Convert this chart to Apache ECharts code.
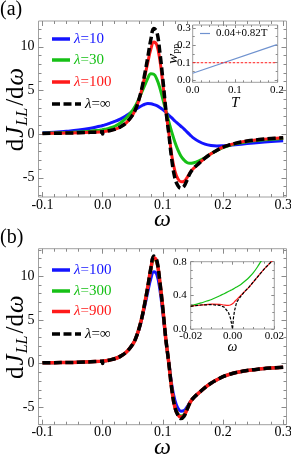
<!DOCTYPE html>
<html><head><meta charset="utf-8">
<script src="https://cdn.jsdelivr.net/npm/echarts@6/dist/echarts.min.js"></script>
<style>html,body{margin:0;padding:0;background:#fff}#c{width:291px;height:458px}</style>
</head><body><div id="c"></div><script>
// ---------------- data ----------------
const omega = [-0.1,-0.08,-0.06,-0.04,-0.02,-0.005,-0.001,0,0.001,0.005,0.01,0.02,0.03,0.04,0.05,0.055,0.06,0.065,0.07,0.075,0.08,0.085,0.09,0.095,0.1,0.105,0.11,0.115,0.12,0.125,0.13,0.135,0.14,0.145,0.15,0.16,0.17,0.18,0.19,0.2,0.21,0.22,0.24,0.26,0.28,0.3];
// panel (a)
const jA_10  = [0.15,0.22,0.32,0.46,0.68, 0.9,0.96,0.98,1.0,1.08,1.2, 1.45,1.75,2.15,2.6, 2.82,3.05,3.25,3.42,3.5,3.47,3.38,3.25,3.05,2.8, 2.5,2.15,1.85,1.5,1.2,0.9,0.6,0.25,-0.08,-0.4, -0.85,-1.15,-1.3,-1.35,-1.33,-1.29,-1.23, -1.08,-0.95,-0.85,-0.77];
const jA_30  = [0.10,0.13,0.17,0.23,0.33, 0.45,0.48,0.5,0.52,0.57,0.65, 0.9,1.3,1.9,2.75, 3.3,4.0,4.8,5.6,6.4,6.9,6.85,6.3,5.3,4.0, 2.7,1.4,0.2,-0.9,-1.8,-2.5,-2.95,-3.25,-3.35,-3.3, -3.05,-2.7,-2.25,-1.87,-1.55,-1.3,-1.12, -0.87,-0.71,-0.59,-0.5];
const jA_100 = [0.08,0.10,0.12,0.15,0.20, 0.25,0.27,0.28,0.29,0.32,0.38, 0.55,0.85,1.35,2.2, 2.9,3.85,5.1,6.6,8.2,9.7,10.55,10.2,8.5,5.8, 2.7,0.1,-2.5,-4.2,-5.1,-5.45,-5.4,-5.0,-4.45,-4.0, -3.35,-2.75,-2.25,-1.85,-1.5,-1.25,-1.06, -0.8,-0.63,-0.51,-0.42];
const jA_inf = [0.08,0.10,0.12,0.15,0.20, 0.25,0.26,0.0,0.28,0.32,0.38, 0.55,0.85,1.35,2.2, 2.9,3.9,5.2,6.9,8.8,10.8,12.1,11.7,9.4,6.3, 2.8,0.0,-3.0,-5.0,-5.9,-6.2,-6.0,-5.3,-4.5,-4.0, -3.35,-2.75,-2.25,-1.85,-1.5,-1.25,-1.06, -0.8,-0.63,-0.51,-0.42];
// panel (b)
const jB_100 = [0.08,0.10,0.12,0.15,0.20, 0.25,0.27,0.28,0.29,0.32,0.38, 0.55,0.85,1.35,2.2, 2.9,3.85,5.1,6.6,8.2,9.7,10.5,10.2,8.5,5.8, 2.7,0.1,-2.5,-4.2,-5.1,-5.45,-5.4,-5.0,-4.45,-4.0, -3.35,-2.75,-2.25,-1.85,-1.5,-1.25,-1.06, -0.8,-0.63,-0.51,-0.42];
const jB_300 = [0.08,0.10,0.12,0.15,0.20, 0.25,0.27,0.28,0.29,0.32,0.38, 0.55,0.85,1.35,2.2, 2.9,3.9,5.2,6.9,8.8,10.7,11.95,11.6,9.3,6.2, 2.75,0.0,-2.9,-4.9,-5.75,-6.0,-5.85,-5.2,-4.5,-4.0, -3.35,-2.75,-2.25,-1.85,-1.5,-1.25,-1.06, -0.8,-0.63,-0.51,-0.42];
const jB_900 = [0.08,0.10,0.12,0.15,0.20, 0.25,0.27,0.28,0.29,0.32,0.38, 0.55,0.85,1.35,2.2, 2.9,3.9,5.2,6.9,8.8,10.8,12.15,11.7,9.4,6.3, 2.8,0.0,-3.0,-5.0,-5.85,-6.15,-5.95,-5.3,-4.5,-4.0, -3.35,-2.75,-2.25,-1.85,-1.5,-1.25,-1.06, -0.8,-0.63,-0.51,-0.42];
const jB_inf = [0.08,0.10,0.12,0.15,0.20, 0.25,0.26,0.0,0.28,0.32,0.38, 0.55,0.85,1.35,2.2, 2.9,3.9,5.2,6.9,8.8,10.9,12.3,11.8,9.4,6.3, 2.8,0.0,-3.0,-5.0,-5.9,-6.3,-6.05,-5.3,-4.5,-4.0, -3.35,-2.75,-2.25,-1.85,-1.5,-1.25,-1.06, -0.8,-0.63,-0.51,-0.42];
// inset (a): w_pp vs T
const T_fit = [0, 0.2];
const w_fit = [0.04, 0.204];
const T_ref = [0, 0.2];
const w_ref = [0.1, 0.1];
// inset (b)
const omegaIn = [-0.02,-0.015,-0.01,-0.006,-0.004,-0.002,-0.001,-0.0005,0,0.0005,0.001,0.002,0.004,0.006,0.008,0.01,0.012,0.014,0.016,0.018,0.02];
const inB_300 = [0.273,0.31,0.35,0.395,0.42,0.445,0.458,0.464,0.47,0.477,0.485,0.5,0.53,0.57,0.615,0.67,0.74,0.82,0.9,0.99,1.08];
const inB_900 = [0.27,0.285,0.295,0.293,0.285,0.28,0.285,0.292,0.3,0.31,0.325,0.35,0.4,0.45,0.5,0.56,0.62,0.68,0.735,0.785,0.84];
const inB_inf = [0.27,0.285,0.29,0.28,0.26,0.2,0.13,0.07,0.0,0.14,0.22,0.32,0.39,0.45,0.5,0.56,0.62,0.68,0.735,0.785,0.84];
// legend labels
const legendA = ['λ=10', 'λ=30', 'λ=100', 'λ=∞'];
const legendB = ['λ=100', 'λ=300', 'λ=900', 'λ=∞'];
const fitLabel = '0.04+0.82T';
// ticks
const mainXTicks = [-0.1, 0, 0.1, 0.2, 0.3];
const mainXMinor = [-0.08,-0.06,-0.04,-0.02,0.02,0.04,0.06,0.08,0.12,0.14,0.16,0.18,0.22,0.24,0.26,0.28];
const mainYTicks = [-5, 0, 5, 10];
const mainYMinor = [-7,-6,-4,-3,-2,-1,1,2,3,4,6,7,8,9,11,12,13];
const insAXTicks = [0, 0.1, 0.2];
const insAXMinor = [0.02,0.04,0.06,0.08,0.12,0.14,0.16,0.18];
const insAYTicks = [0, 0.1, 0.2, 0.3];
const insAYMinor = [0.05,0.15,0.25];
const insBXTicks = [-0.02, 0, 0.02];
const insBXMinor = [-0.015,-0.01,-0.005,0.005,0.01,0.015];
const insBYTicks = [0, 0.4, 0.8];
const insBYMinor = [0.1,0.2,0.3,0.5,0.6,0.7];

// ---------------- styling ----------------
const FONT = 'Liberation Serif';
const TICK = '#8a8a8a';
const BLUE = '#1414ff', GREEN = '#16c016', RED = '#ff1a1a', BLACK = '#000';
const FITBLUE = '#6f92cf';

const xAxes = [], yAxes = [];
function frame(g, c) {
  const xi = xAxes.length, yi = yAxes.length;
  const base = {gridIndex: g, type: 'value', splitLine: {show: false}, axisLine: {show: false, onZero: false}, nameMoveOverlap: false};
  const lab = (vals, fmt, margin) => ({show: true, customValues: vals, formatter: fmt, margin: margin,
      fontFamily: FONT, fontSize: c.fs, color: '#000'});
  const tk = (vals, len) => ({show: true, inside: true, length: len, customValues: vals, lineStyle: {color: TICK, width: 1}});
  xAxes.push(Object.assign({}, base, {min: c.xmin, max: c.xmax, position: 'bottom',
    axisTick: tk(c.xMaj, c.maj), axisLabel: lab(c.xMaj, c.xFmt, c.xMargin),
    name: c.xName, nameLocation: 'middle', nameGap: c.xNameGap, nameTextStyle: c.xNameStyle}));
  xAxes.push(Object.assign({}, base, {min: c.xmin, max: c.xmax, position: 'bottom', axisTick: tk(c.xMin, c.min), axisLabel: {show: false}}));
  xAxes.push(Object.assign({}, base, {min: c.xmin, max: c.xmax, position: 'top', axisTick: tk(c.xMaj, c.maj), axisLabel: {show: false}}));
  xAxes.push(Object.assign({}, base, {min: c.xmin, max: c.xmax, position: 'top', axisTick: tk(c.xMin, c.min), axisLabel: {show: false}}));
  yAxes.push(Object.assign({}, base, {min: c.ymin, max: c.ymax, position: 'left',
    axisTick: tk(c.yMaj, c.maj), axisLabel: lab(c.yMaj, c.yFmt, c.yMargin),
    name: c.yName, nameLocation: 'middle', nameGap: c.yNameGap, nameRotate: 90, nameTextStyle: c.yNameStyle}));
  yAxes.push(Object.assign({}, base, {min: c.ymin, max: c.ymax, position: 'left', axisTick: tk(c.yMin, c.min), axisLabel: {show: false}}));
  yAxes.push(Object.assign({}, base, {min: c.ymin, max: c.ymax, position: 'right', axisTick: tk(c.yMaj, c.maj), axisLabel: {show: false}}));
  yAxes.push(Object.assign({}, base, {min: c.ymin, max: c.ymax, position: 'right', axisTick: tk(c.yMin, c.min), axisLabel: {show: false}}));
  return {x: xi, y: yi};
}

const YF = 25;
const yNameMain = {
  fontFamily: FONT, fontSize: YF, color: '#000',
  rich: {
    r: {fontFamily: FONT, fontSize: YF, color: '#000'},
    i: {fontFamily: FONT, fontSize: YF, fontStyle: 'italic', color: '#000', padding: [0, 1, 0, 1]},
    s: {fontFamily: FONT, fontSize: 16, fontStyle: 'italic', color: '#000', padding: [12, 2, 0, 0]}
  }
};
const yNameText = '{r|d}{i|J}{s|LL}{r|/d}{i|ω}';
const omegaName = {fontFamily: FONT, fontSize: 24, fontStyle: 'italic', color: '#000'};
const f1 = v => v.toFixed(1), f0 = v => String(v), f2 = v => v.toFixed(2);

const gridBase = {show: true, borderColor: '#a0a0a0', borderWidth: 1, containLabel: false, outerBoundsMode: 'none'};
const grids = [
  Object.assign({left: 38.5, top: 21, width: 248, height: 176, backgroundColor: 'transparent'}, gridBase),
  Object.assign({left: 192.7, top: 25, width: 85, height: 57.3, backgroundColor: '#fff'}, gridBase),
  Object.assign({left: 38.5, top: 248.7, width: 248, height: 176, backgroundColor: 'transparent'}, gridBase),
  Object.assign({left: 190.7, top: 261.7, width: 83.6, height: 67.3, backgroundColor: '#fff'}, gridBase)
];

const mainCfg = (ymin, ymax) => ({xmin: -0.1066, xmax: 0.3055, ymin: ymin, ymax: ymax,
  xMaj: mainXTicks, xMin: mainXMinor, yMaj: mainYTicks, yMin: mainYMinor,
  xFmt: f1, yFmt: f0, fs: 14, maj: 5, min: 3, xMargin: 1, yMargin: 4,
  xName: 'ω', xNameGap: 11, xNameStyle: omegaName,
  yName: yNameText, yNameGap: 8, yNameStyle: yNameMain});

const axA = frame(0, mainCfg(-7.2, 12.95));
const axAi = frame(1, {xmin: 0, xmax: 0.202, ymin: -0.012, ymax: 0.316,
  xMaj: insAXTicks, xMin: insAXMinor, yMaj: insAYTicks, yMin: insAYMinor,
  xFmt: f1, yFmt: f1, fs: 11, maj: 3, min: 2, xMargin: 2, yMargin: 2,
  xName: 'T', xNameGap: 13, xNameStyle: {fontFamily: FONT, fontSize: 15, fontStyle: 'italic', color: '#000'},
  yName: '{i|w}{s|pp}', yNameGap: 11, yNameStyle: {fontFamily: FONT, fontSize: 14, color: '#000',
    rich: {i: {fontFamily: FONT, fontSize: 15, fontStyle: 'italic', color: '#000'},
           s: {fontFamily: FONT, fontSize: 10, color: '#000', padding: [7, 0, 0, 0]}}}});
const axB = frame(2, mainCfg(-7.0, 13.15));
const axBi = frame(3, {xmin: -0.02, xmax: 0.02, ymin: 0, ymax: 0.8,
  xMaj: insBXTicks, xMin: insBXMinor, yMaj: insBYTicks, yMin: insBYMinor,
  xFmt: f2, yFmt: f1, fs: 11, maj: 3, min: 2, xMargin: 2, yMargin: 4,
  xName: 'ω', xNameGap: 11, xNameStyle: {fontFamily: FONT, fontSize: 14, fontStyle: 'italic', color: '#000'},
  yName: '', yNameGap: 0, yNameStyle: {}});

const zip = (xs, ys) => xs.map((x, i) => [x, ys[i]]);
function line(name, ax, xs, ys, color, width, dash, smooth, z) {
  return {type: 'line', name: name, xAxisIndex: ax.x, yAxisIndex: ax.y, data: zip(xs, ys),
    symbol: 'none', showSymbol: false, smooth: smooth, silent: true, animation: false, z: z,
    lineStyle: {color: color, width: width, type: dash || 'solid', cap: 'butt', join: 'round'},
    itemStyle: {color: color}};
}
const DASH = [8, 3.5];
const series = [
  line(legendA[0], axA, omega, jA_10, BLUE, 3, null, 0.4, 2),
  line(legendA[1], axA, omega, jA_30, GREEN, 3, null, 0.4, 3),
  line(legendA[2], axA, omega, jA_100, RED, 3, null, 0.4, 4),
  line(legendA[3], axA, omega, jA_inf, BLACK, 3.5, DASH, 0.4, 5),
  line(fitLabel, axAi, T_fit, w_fit, FITBLUE, 1.2, null, false, 6),
  line('w=0.1', axAi, T_ref, w_ref, RED, 1, [2.5, 1.5], false, 6),
  line(legendB[0] + ' (b)', axB, omega, jB_100, BLUE, 3, null, 0.4, 2),
  line(legendB[1], axB, omega, jB_300, GREEN, 3, null, 0.4, 3),
  line(legendB[2], axB, omega, jB_900, RED, 3.5, null, 0.4, 4),
  line(legendB[3] + ' (b)', axB, omega, jB_inf, BLACK, 3.5, DASH, 0.4, 5),
  line('inset λ=300', axBi, omegaIn, inB_300, GREEN, 1.2, null, 0.3, 6),
  line('inset λ=900', axBi, omegaIn, inB_900, RED, 1.2, null, 0.3, 6),
  line('inset λ=∞', axBi, omegaIn, inB_inf, BLACK, 1.2, [3, 1.5], false, 7)
];

// legend keys (graphic): short line sample + label
const gfx = [];
function key(label, x1, x2, cy, color, dash, width, fs, lam) {
  gfx.push({type: 'line', z: 100, shape: {x1: x1, y1: cy, x2: x2, y2: cy},
    style: {stroke: color, lineWidth: width, lineDash: dash || null}});
  const rich = {i: {fontFamily: FONT, fontSize: fs, fontStyle: 'italic', fill: color},
                r: {fontFamily: FONT, fontSize: fs, fill: color}};
  gfx.push({type: 'text', z: 100, x: x2 + (lam ? 4 : 6), y: cy,
    style: {text: lam ? '{i|λ}{r|' + label.slice(1) + '}' : label, rich: rich,
      fontFamily: FONT, fontSize: fs, fill: '#000', verticalAlign: 'middle', align: 'left'}});
}
const keyY_A = [39, 60, 82, 104], keyY_B = [270, 291, 311.5, 334];
const keyCol = [BLUE, GREEN, RED, BLACK];
legendA.forEach((l, i) => key(l, 52, i === 3 ? 81 : 70, keyY_A[i], keyCol[i], i === 3 ? DASH : null, 3.5, 15, true));
legendB.forEach((l, i) => key(l, 52, i === 3 ? 81 : 70, keyY_B[i], keyCol[i], i === 3 ? DASH : null, 3.5, 15, true));
key(fitLabel, 200, 210, 33.5, FITBLUE, null, 1.2, 11, false);
gfx.push({type: 'text', left: 0, top: 0, style: {text: '(a)', fontFamily: FONT, fontSize: 20, fill: '#000'}});
gfx.push({type: 'text', left: 0, top: 228, style: {text: '(b)', fontFamily: FONT, fontSize: 20, fill: '#000'}});

const chart = echarts.init(document.getElementById('c'), null, {renderer: 'canvas'});
chart.setOption({
  animation: false,
  backgroundColor: '#fff',
  grid: grids,
  xAxis: xAxes,
  yAxis: yAxes,
  series: series,
  graphic: gfx
});
</script></body></html>
